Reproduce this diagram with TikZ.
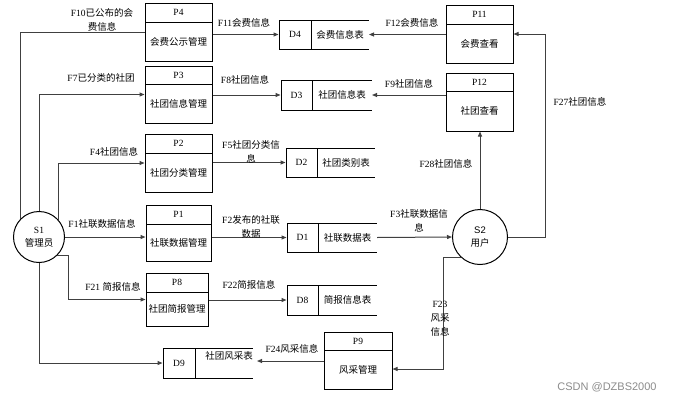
\documentclass[tikz,border=0pt]{standalone}
\usepackage{fontspec}
\setmainfont{Liberation Serif}
\setsansfont{Liberation Sans}
\newfontfamily\cjk{Noto Sans CJK SC}
\usetikzlibrary{arrows.meta,fit,calc}
\newcommand\zh[1]{{\cjk #1}}
% name x1 y1 x2 y2 ydiv id text
\newcommand\procbox[8]{%
  \node[pbox, fit={(#2,#3) (#4,#5)}] (#1) {};
  \draw[pline] (#2,#6) -- (#4,#6);
  \node[txt] (#1id) at ({(#2+#4)/2},{(#3+#6)/2}) {#7};
  \node[txt] (#1tx) at ({(#2+#4)/2},{(#6+#5)/2}) {#8};
}
% name x1 y1 xdiv y2 xend id text
\newcommand\storebox[8]{%
  \node[pbox, fit={(#2,#3) (#4,#5)}] (#1) {};
  \draw[pline] (#4,#3) -- (#6,#3) (#4,#5) -- (#6,#5);
  \coordinate (#1r) at (#6,{(#3+#5)/2});
  \node[txt] (#1id) at ({(#2+#4)/2},{(#3+#5)/2}) {#7};
  \node[txt] (#1tx) at ({(#4+#6)/2},{(#3+#5)/2}) {#8};
}
\tikzset{
  pbox/.style={draw=black, line width=1pt, inner sep=0pt},
  pline/.style={draw=black, line width=1pt},
  txt/.style={inner sep=0pt, font=\fontsize{9.5}{14}\selectfont, align=center},
  lbl/.style={inner sep=0pt, font=\fontsize{9.5}{14}\selectfont, align=center},
  conn/.style={draw=black!75, line width=1pt, -{Triangle[length=5pt,width=4pt]}},
  plainconn/.style={draw=black!75, line width=1pt},
  circ/.style={draw=black, line width=1pt, circle, inner sep=0pt, align=center, font=\fontsize{9.5}{13}\selectfont},
}
\begin{document}
\begin{tikzpicture}[x=1pt,y=-1pt]
\fill[white] (0,0) rectangle (680,402);
\useasboundingbox (0,0) rectangle (680,402);

% processes
\procbox{P4}{145}{3}{212}{61}{22}{P4}{\zh{会费公示管理}}
\procbox{P3}{145}{66}{212}{123}{84}{P3}{\zh{社团信息管理}}
\procbox{P2}{145}{134}{212}{192}{153}{P2}{\zh{社团分类管理}}
\procbox{P1}{146}{205}{211}{261}{224}{P1}{\zh{社联数据管理}}
\procbox{P8}{146}{273}{208}{326}{292}{P8}{\zh{社团简报管理}}
\procbox{P9}{324}{332}{392}{389}{350}{P9}{\zh{风采管理}}
\procbox{P11}{446}{5}{513}{63}{24}{P11}{\zh{会费查看}}
\procbox{P12}{446}{73}{513}{131}{91}{P12}{\zh{社团查看}}

% data stores
\storebox{D4}{279}{20}{311}{49}{369}{D4}{\zh{会费信息表}}
\storebox{D3}{281}{80}{312}{110}{372}{D3}{\zh{社团信息表}}
\storebox{D2}{286}{148}{317}{177}{375}{D2}{\zh{社团类别表}}
\storebox{D1}{287}{223}{318}{252}{377}{D1}{\zh{社联数据表}}
\storebox{D8}{287}{285}{318}{315}{377}{D8}{\zh{简报信息表}}
% D9 (text placed high in its field)
\node[pbox, fit={(163,348) (195,378)}] (D9) {};
\draw[pline] (195,348) -- (253,348) (195,378) -- (253,378);
\coordinate (D9r) at (257,361);
\node[txt] (D9id) at (179,363) {D9};
\node[txt] (D9tx) at (229,356) {\zh{社团风采表}};

% external entities
\node[circ, minimum size=51pt] (S1) at (39,237) {S1\\\zh{管理员}};
\node[circ, minimum size=55pt, font=\sffamily\fontsize{9.5}{13}\selectfont] (S2) at (480,237) {S2\\\zh{用户}};

% bend points
\coordinate (c21) at (68,256);
\coordinate (c27) at (545,34);
\coordinate (c23a) at (443,257);
\coordinate (c23) at (443,369);

% connectors from S1
\draw[plainconn] (S1.135) |- (P4.west);
\draw[conn] (S1.north) |- (P3.west);
\draw[conn] (S1.42) |- (P2.west);
\draw[conn] (S1.east) -- (S1.east -| P1.west);
\draw[conn] (S1.-45) -- (S1.-45 -| c21) |- (P8.west);
\draw[conn] (S1.south) |- (D9.west);

% process to store
\draw[conn] (D4.west -| P4.east) -- (D4.west);
\draw[conn] (D3.west -| P3.east) -- (D3.west);
\draw[conn] (D2.west -| P2.east) -- (D2.west);
\draw[conn] (D1.west -| P1.east) -- (D1.west);
\draw[conn] (D8.west -| P8.east) -- (D8.west);
\draw[conn] (D4r -| P11.west) -- (D4r);
\draw[conn] (D3r -| P12.west) -- (D3r);
\draw[conn] (D9r -| P9.west) -- (D9r);

% S2 related
\draw[conn] (D1r) -- (S2.west);
\draw[conn] (S2.north) -- (S2.north |- P12.south);
\draw[conn] (S2.east) -| (c27) -- (P11.east);
\draw[conn] (S2.228) -- (S2.228 -| c23a) -- (c23) -- (c23 -| P9.east);

% labels
\node[lbl] (L10) at (102,20) {F10\zh{已公布的会}\\\zh{费信息}};
\node[lbl] (L7) at (101,78) {F7\zh{已分类的社团}};
\node[lbl] (L4) at (114,152) {F4\zh{社团信息}};
\node[lbl] (L1) at (102,224) {F1\zh{社联数据信息}};
\node[lbl] (L21) at (113,287) {F21 \zh{简报信息}};
\node[lbl] (L11) at (244,23) {F11\zh{会费信息}};
\node[lbl] (L12) at (412,23) {F12\zh{会费信息}};
\node[lbl] (L8) at (245,80) {F8\zh{社团信息}};
\node[lbl] (L9) at (409,84) {F9\zh{社团信息}};
\node[lbl] (L5) at (251,152) {F5\zh{社团分类信}\\\zh{息}};
\node[lbl] (L2) at (251,227) {F2\zh{发布的社联}\\\zh{数据}};
\node[lbl] (L3) at (419,220.5) {F3\zh{社联数据信}\\\zh{息}};
\node[lbl] (L28) at (446,164) {F28\zh{社团信息}};
\node[lbl] (L27) at (580,102) {F27\zh{社团信息}};
\node[lbl] (L22) at (249,285) {F22\zh{简报信息}};
\node[lbl] (L24) at (292,349) {F24\zh{风采信息}};
\node[lbl] (L23) at (440,319) {F23\\\zh{风采}\\\zh{信息}};

\node[inner sep=0pt, text=black!45, font=\sffamily\fontsize{11}{13}\selectfont] (wm) at (607,387) {CSDN @DZBS2000};
\end{tikzpicture}
\end{document}
